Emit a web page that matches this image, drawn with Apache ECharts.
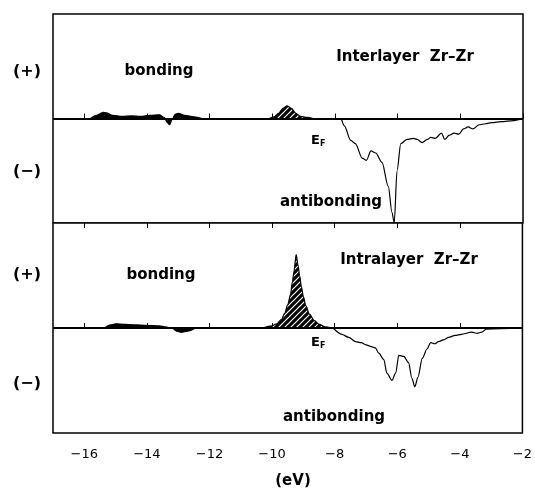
<!DOCTYPE html>
<html>
<head>
<meta charset="utf-8">
<script src="https://cdn.jsdelivr.net/npm/echarts@6/dist/echarts.min.js"></script>
<style>
html,body{margin:0;padding:0;background:#fff;}
#c{width:535px;height:493px;}
</style>
</head>
<body>
<div id="c"></div>
<script>
// ---- data (energy eV, COOP value) ----
var xTicks = [-16, -14, -12, -10, -8, -6, -4, -2];
var interSmallBonding = [[-15.8,0],[-15.6,0.03],[-15.4,0.06],[-15.3,0.055],[-15.1,0.03],[-14.8,0.02],[-14.5,0.025],[-14.2,0.02],[-13.9,0.03],[-13.6,0.035],[-13.45,0.01],[-13.35,-0.04],[-13.28,-0.06],[-13.2,-0.01],[-13.1,0.04],[-13.0,0.05],[-12.8,0.03],[-12.5,0.015],[-12.25,0]];
var interPeak = [[-10.1,0],[-9.95,0.015],[-9.8,0.05],[-9.65,0.1],[-9.53,0.12],[-9.4,0.1],[-9.25,0.05],[-9.1,0.02],[-8.9,0.01],[-8.7,0]];
var interAnti = [[-7.8,0],[-7.7,-0.07],[-7.5,-0.21],[-7.35,-0.24],[-7.13,-0.38],[-7.0,-0.40],[-6.85,-0.31],[-6.7,-0.33],[-6.5,-0.42],[-6.3,-0.65],[-6.18,-0.9],[-6.11,-1.0],[-6.02,-0.5],[-5.9,-0.24],[-5.7,-0.2],[-5.5,-0.19],[-5.38,-0.2],[-5.22,-0.23],[-5.05,-0.2],[-4.94,-0.18],[-4.8,-0.19],[-4.6,-0.14],[-4.5,-0.2],[-4.35,-0.16],[-4.2,-0.14],[-4.05,-0.15],[-3.9,-0.1],[-3.75,-0.08],[-3.6,-0.1],[-3.4,-0.06],[-3.2,-0.05],[-3.0,-0.04],[-2.7,-0.03],[-2.3,-0.02],[-2.0,0]];
var intraSmallBonding = [[-15.35,0],[-15.15,0.03],[-15.0,0.04],[-14.7,0.035],[-14.4,0.03],[-14.0,0.025],[-13.6,0.02],[-13.4,0.01],[-13.2,0],[-13.05,-0.03],[-12.9,-0.04],[-12.7,-0.03],[-12.45,0]];
var intraPeak = [[-10.3,0],[-10.0,0.02],[-9.85,0.04],[-9.7,0.08],[-9.6,0.14],[-9.5,0.22],[-9.41,0.32],[-9.35,0.44],[-9.3,0.54],[-9.23,0.7],[-9.17,0.6],[-9.12,0.5],[-9.06,0.39],[-9.0,0.3],[-8.92,0.21],[-8.8,0.13],[-8.65,0.07],[-8.5,0.035],[-8.3,0.01],[-8.1,0]];
var intraAnti = [[-8.05,0],[-7.77,-0.06],[-7.55,-0.09],[-7.33,-0.13],[-7.15,-0.14],[-7.0,-0.16],[-6.8,-0.18],[-6.7,-0.19],[-6.59,-0.24],[-6.43,-0.3],[-6.33,-0.43],[-6.17,-0.5],[-6.05,-0.43],[-5.95,-0.26],[-5.79,-0.27],[-5.64,-0.33],[-5.53,-0.48],[-5.44,-0.56],[-5.34,-0.47],[-5.2,-0.29],[-5.05,-0.2],[-4.93,-0.14],[-4.8,-0.15],[-4.68,-0.13],[-4.5,-0.11],[-4.36,-0.09],[-4.15,-0.07],[-3.95,-0.06],[-3.62,-0.04],[-3.45,-0.05],[-3.3,-0.04],[-3.15,-0.01],[-2.0,0]];

// hatch pattern
var pc = document.createElement('canvas');
pc.width = 6; pc.height = 6;
var g = pc.getContext('2d');
g.fillStyle = '#000'; g.fillRect(0,0,6,6);
g.strokeStyle = '#fff'; g.lineWidth = 1.2;
g.beginPath(); g.moveTo(0,6); g.lineTo(6,0); g.moveTo(-1,1); g.lineTo(1,-1); g.moveTo(5,7); g.lineTo(7,5); g.stroke();
var hatch = {image: pc, repeat: 'repeat'};

var FONT = '"DejaVu Sans", sans-serif';
function fmt(v){ return (v < 0 ? '\u2212' : '') + Math.abs(v); }

function xAx(grid, pos, labels){
  return {
    type:'value', gridIndex:grid, min:-17, max:-2, position:pos,
    axisLine:{show:false},
    axisTick:{show:true, inside:true, length:5, customValues:xTicks, lineStyle:{color:'#000', width:1}},
    axisLabel:{show:labels, customValues:xTicks, formatter:fmt, color:'#000', fontFamily:FONT, fontSize:13, margin:15},
    splitLine:{show:false}
  };
}
function yAx(grid){
  return {type:'value', gridIndex:grid, min:-1, max:1, show:false, splitLine:{show:false}};
}
var zeroLine = {silent:true, symbol:'none', label:{show:false}, lineStyle:{color:'#000', width:2, type:'solid'}, data:[{yAxis:0}]};
function line(xi, yi, data, area, mark){
  var s = {type:'line', xAxisIndex:xi, yAxisIndex:yi, data:data, showSymbol:false, symbol:'none',
    smooth:0.3, smoothMonotone:'x', lineStyle:{color:'#000', width:1.2}, z:3};
  if (area) s.areaStyle = {color: area, opacity:1};
  if (mark) s.markLine = zeroLine;
  return s;
}
function txt(x, y, t, size, weight, align){
  return {type:'text', x:x, y:y, style:{text:t, fill:'#000', font:(weight||'bold')+' '+size+'px '+FONT, textAlign:align||'center', textVerticalAlign:'middle'}};
}
function ef(x, y){
  return {type:'text', x:x, y:y, style:{text:'{a|E}{b|F}', textVerticalAlign:'middle',
    rich:{a:{fontFamily:FONT, fontSize:13, fontWeight:'bold', fill:'#000'}, b:{fontFamily:FONT, fontSize:8, fontWeight:'bold', fill:'#000', padding:[6,0,0,0]}}}};
}

var chart = echarts.init(document.getElementById('c'), null, {renderer:'canvas'});
chart.setOption({
  animation:false,
  backgroundColor:'#fff',
  grid:[
    {left:53, right:12, top:14, height:209, show:true, borderColor:'#000', borderWidth:1.5, backgroundColor:'#fff'},
    {left:53, right:12, top:223, height:210, show:true, borderColor:'#000', borderWidth:1.5, backgroundColor:'#fff'}
  ],
  xAxis:[xAx(0,'bottom',false), xAx(1,'bottom',true), xAx(1,'top',false)],
  yAxis:[yAx(0), yAx(1)],
  series:[
    line(0,0,interSmallBonding,'#000',true),
    line(0,0,interPeak,hatch,false),
    line(0,0,interAnti,null,false),
    line(1,1,intraSmallBonding,'#000',true),
    line(1,1,intraPeak,hatch,false),
    line(1,1,intraAnti,null,false)
  ],
  graphic:[
    txt(27,72,'(+)',16,'bold'),
    txt(27,172,'(\u2212)',16,'bold'),
    txt(27,275,'(+)',16,'bold'),
    txt(27,384,'(\u2212)',16,'bold'),
    txt(159,71,'bonding',15),
    txt(161,275,'bonding',15),
    txt(405,57,'Interlayer  Zr\u2013Zr',15),
    txt(409,260,'Intralayer  Zr\u2013Zr',15),
    txt(331,202,'antibonding',15),
    txt(334,417,'antibonding',15),
    ef(311,141),
    ef(311,343),
    txt(293,481,'(eV)',15)
  ]
});
</script>
</body>
</html>
